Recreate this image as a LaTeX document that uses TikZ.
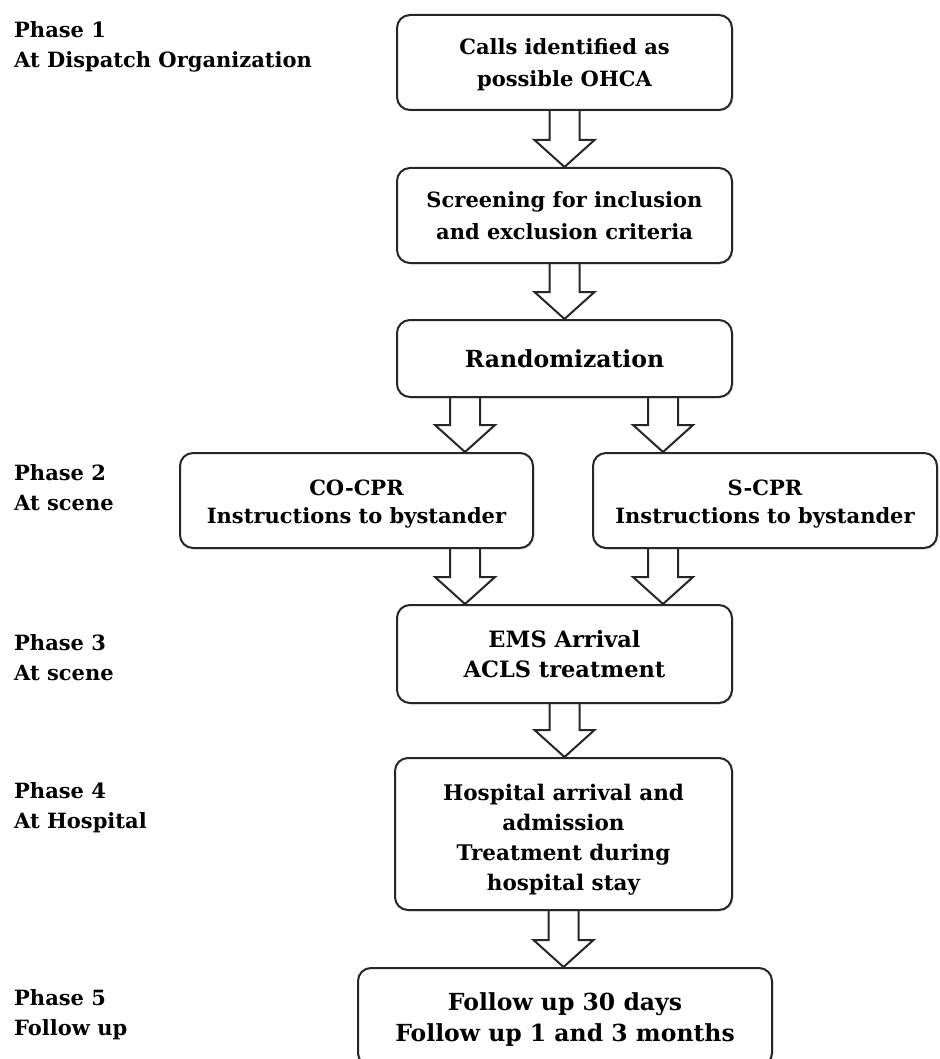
\documentclass[tikz,border=0pt]{standalone}
\usepackage{fontspec}
\setmainfont{DejaVu Serif}
\usetikzlibrary{calc,shadows,backgrounds}
\newcommand\flowarrow[2]{%
  \path let \p1=(#1), \p2=(#2) in [barrow]
    (\x1-15pt,\y1) -- (\x1-15pt,\y2+27pt) -- (\x1-30pt,\y2+27pt) -- (\x1,\y2)
    -- (\x1+30pt,\y2+27pt) -- (\x1+15pt,\y2+27pt) -- (\x1+15pt,\y1);}
\newcommand\fs[2]{\bfseries\fontsize{#1}{#2}\selectfont}
\newcommand\lowertext[2]{\raisebox{-#1}[\height][\depth]{\begin{tabular}{@{}c@{}}#2\end{tabular}}}
\begin{document}
\begin{tikzpicture}[x=1pt,y=-1pt,
  box/.style={draw=black!85, line width=2pt, rounded corners=13pt, fill=white,
    align=center, inner sep=0pt,
    drop shadow={opacity=0.18, shadow xshift=1.5pt, shadow yshift=-1.5pt},
    font=\fs{21}{32}},
  lbl/.style={anchor=base west, align=left, inner sep=0pt, font=\fs{21}{30}},
  barrow/.style={draw=black!85, line width=2pt, fill=white, line join=miter}]
\useasboundingbox (0,0) rectangle (939,1059);

\node[box, minimum width=335pt, minimum height=95pt] (b1) at (564.5,62.5) {\lowertext{2pt}{Calls identified as\\possible OHCA}};
\node[box, minimum width=335pt, minimum height=95pt] (b2) at (564.5,215.5) {Screening for inclusion\\and exclusion criteria};
\node[box, minimum width=335pt, minimum height=77pt, font=\fs{23.5}{31}] (b3) at (564.5,358.5) {Randomization};
\node[box, minimum width=353pt, minimum height=95pt, font=\fs{21}{28}] (co) at (356.5,500.5) {\lowertext{3pt}{CO-CPR\\Instructions to bystander}};
\node[box, minimum width=344pt, minimum height=95pt, font=\fs{21}{28}] (s) at (765,500.5) {\lowertext{3pt}{S-CPR\\Instructions to bystander}};
\node[box, minimum width=335pt, minimum height=98pt, font=\fs{22.5}{30}] (ems) at (564.5,654) {EMS Arrival\\ACLS treatment};
\node[box, minimum width=337pt, minimum height=152pt, font=\fs{21.5}{30}] (hosp) at (563.5,834) {\lowertext{5pt}{Hospital arrival and\\admission\\Treatment during\\hospital stay}};
\node[box, minimum width=414pt, minimum height=98pt, font=\fs{23.5}{31}] (fol) at (565,1017) {\lowertext{3pt}{Follow up 30 days\\Follow up 1 and 3 months}};

\begin{scope}[on background layer]
\flowarrow{b1.south}{b2.north}
\flowarrow{b2.south}{b3.north}
\flowarrow{$(b3.south)+(-99.5,0)$}{co.north}
\flowarrow{$(b3.south)+(98.5,0)$}{s.north}
\flowarrow{$(co.south)+(108.5,0)$}{ems.north}
\flowarrow{$(s.south)+(-102,0)$}{ems.north}
\flowarrow{ems.south}{hosp.north}
\flowarrow{hosp.south}{fol.north}
\end{scope}

\node[lbl] (p1) at (14,68) {Phase 1\\At Dispatch Organization};
\node[lbl] (p2) at (14,510) {Phase 2\\At scene};
\node[lbl] (p3) at (14,680) {Phase 3\\At scene};
\node[lbl] (p4) at (14,828) {Phase 4\\At Hospital};
\node[lbl] (p5) at (14,1035) {Phase 5\\Follow up};
\end{tikzpicture}
\end{document}
